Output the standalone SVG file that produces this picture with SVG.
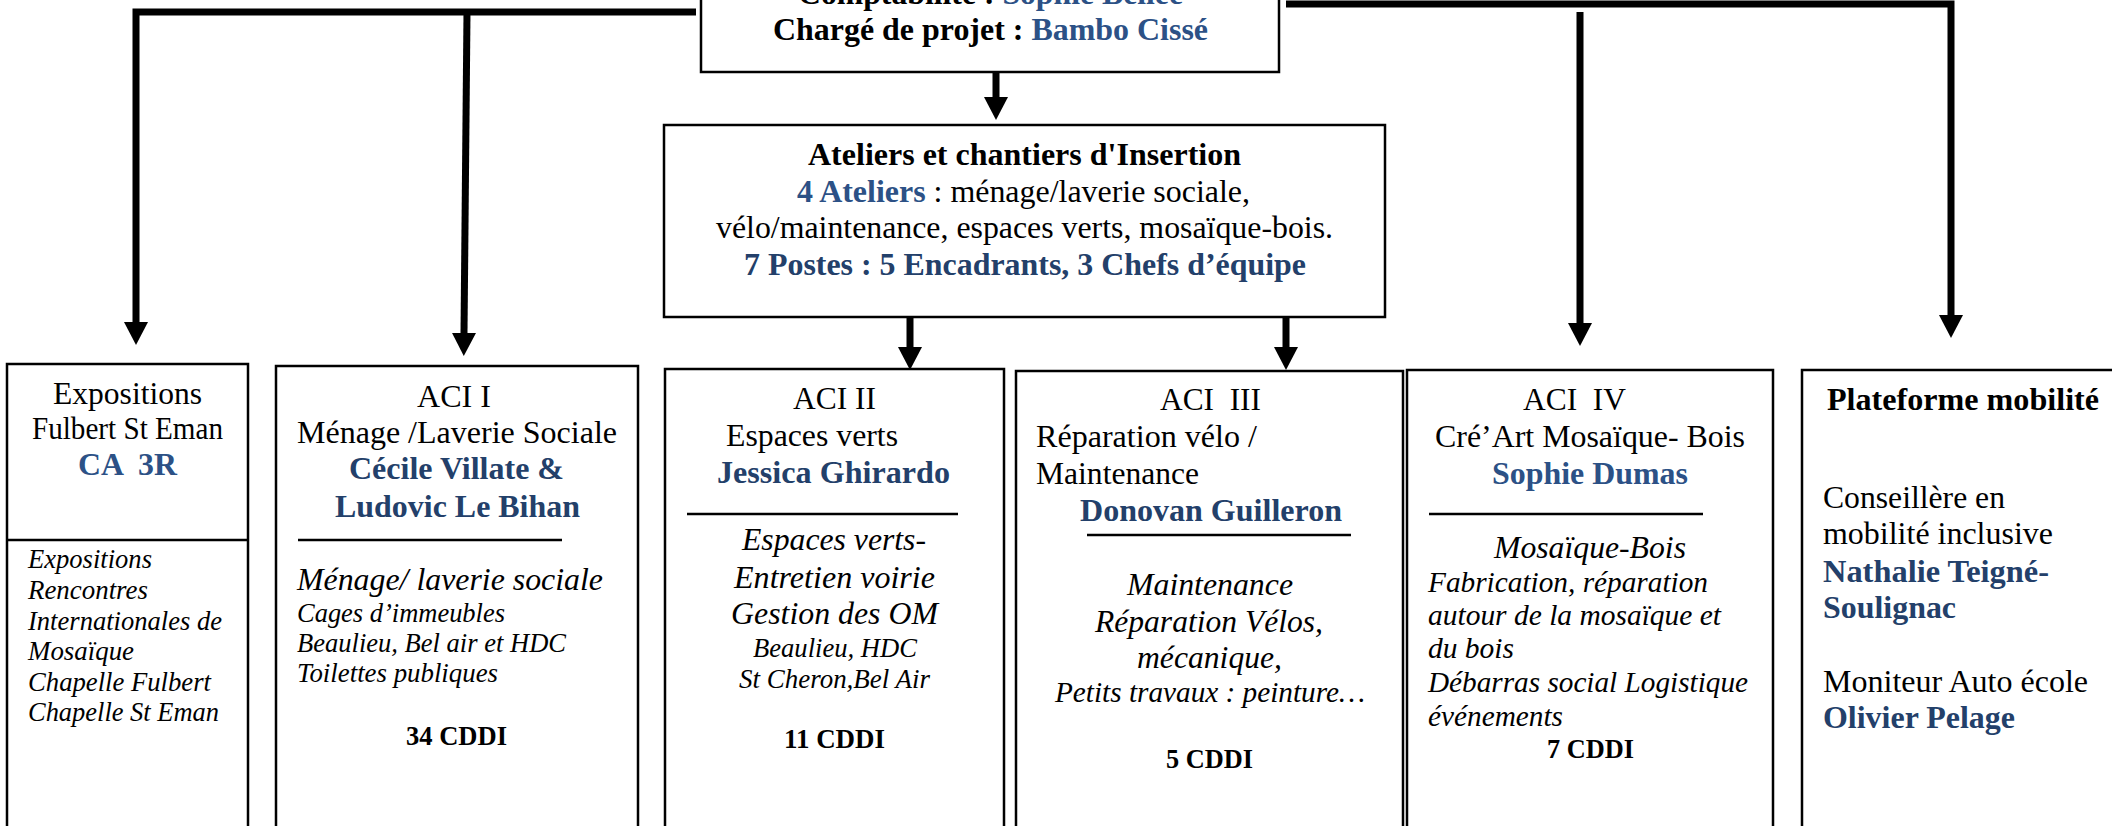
<svg xmlns="http://www.w3.org/2000/svg" width="2112" height="826" viewBox="0 0 2112 826">
<style>
text{font-family:"Liberation Serif","Times New Roman",serif;fill:#000;font-size:32px}
.bd{font-weight:bold}
.it{font-style:italic}
.s{font-size:26.5px}
.m{font-size:29px}
.b1{fill:#23406A}
.b2{fill:#2C5186}
.box{fill:#fff;stroke:#000;stroke-width:2.5}
.div{stroke:#000;stroke-width:2.5;fill:none}
.conn{stroke:#000;stroke-width:7;fill:none;marker-end:url(#ah)}
.line{stroke:#000;stroke-width:7;fill:none}
</style>
<defs>
<marker id="ah" viewBox="0 0 23 24" markerUnits="userSpaceOnUse" markerWidth="23" markerHeight="24" refX="0" refY="12" orient="auto">
<path d="M0,0 L23,12 L0,24 Z" fill="#000"/>
</marker>
</defs>
<rect width="2112" height="826" fill="#fff"/>

<g id="connectors">
<path class="conn" d="M696 12 H136 V322"/>
<path class="conn" d="M467 12 L464 333"/>
<path class="conn" d="M1286 4 H1951 V315"/>
<path class="conn" d="M1580 12 V323"/>
<path class="conn" d="M996 49 V97"/>
<path class="conn" d="M910 303 V347"/>
<path class="conn" d="M1286 300 V347"/>
</g>

<g id="direction">
<rect class="box" x="701" y="-40" width="578" height="112"/>
<text class="bd" x="798" y="4" textLength="385" lengthAdjust="spacingAndGlyphs">Comptabilité : <tspan class="b2">Sophie Bellée</tspan></text>
<text class="bd" x="773" y="40" textLength="435" lengthAdjust="spacingAndGlyphs">Chargé de projet : <tspan class="b2">Bambo Cissé</tspan></text>
</g>

<g id="ateliers">
<rect class="box" x="664" y="125" width="721" height="192"/>
<text class="bd" x="808" y="165" textLength="433" lengthAdjust="spacingAndGlyphs">Ateliers et chantiers d'Insertion</text>
<text x="797" y="202" textLength="453" lengthAdjust="spacingAndGlyphs"><tspan class="bd b2">4 Ateliers</tspan> : ménage/laverie sociale,</text>
<text x="716" y="238" textLength="617" lengthAdjust="spacingAndGlyphs">vélo/maintenance, espaces verts, mosaïque-bois.</text>
<text class="bd b1" x="744" y="275" textLength="562" lengthAdjust="spacingAndGlyphs">7 Postes : 5 Encadrants, 3 Chefs d’équipe</text>
</g>

<g id="expositions">
<rect class="box" x="7" y="364" width="241" height="480"/>
<line class="div" x1="7" y1="540" x2="248" y2="540"/>
<text x="53" y="404" textLength="149" lengthAdjust="spacingAndGlyphs">Expositions</text>
<text x="32" y="439" textLength="191" lengthAdjust="spacingAndGlyphs">Fulbert St Eman</text>
<text class="bd b2" x="78" y="475" textLength="99" lengthAdjust="spacingAndGlyphs" xml:space="preserve">CA  3R</text>
<text class="it s" x="28" y="568" textLength="124" lengthAdjust="spacingAndGlyphs">Expositions</text>
<text class="it s" x="28" y="599" textLength="120" lengthAdjust="spacingAndGlyphs">Rencontres</text>
<text class="it s" x="28" y="630" textLength="194" lengthAdjust="spacingAndGlyphs">Internationales de</text>
<text class="it s" x="28" y="660" textLength="106" lengthAdjust="spacingAndGlyphs">Mosaïque</text>
<text class="it s" x="28" y="691" textLength="183" lengthAdjust="spacingAndGlyphs">Chapelle Fulbert</text>
<text class="it s" x="28" y="721" textLength="191" lengthAdjust="spacingAndGlyphs">Chapelle St Eman</text>
</g>

<g id="aci1">
<rect class="box" x="276" y="366" width="362" height="480"/>
<text x="417" y="407" textLength="74" lengthAdjust="spacingAndGlyphs">ACI I</text>
<text x="297" y="443" textLength="320" lengthAdjust="spacingAndGlyphs">Ménage /Laverie Sociale</text>
<text class="bd b1" x="349" y="479" textLength="215" lengthAdjust="spacingAndGlyphs">Cécile Villate &amp;</text>
<text class="bd b1" x="335" y="517" textLength="245" lengthAdjust="spacingAndGlyphs">Ludovic Le Bihan</text>
<line class="div" x1="298" y1="540" x2="562" y2="540"/>
<text class="it" x="297" y="590" textLength="306" lengthAdjust="spacingAndGlyphs">Ménage/ laverie sociale</text>
<text class="it s" x="297" y="622" textLength="208" lengthAdjust="spacingAndGlyphs">Cages d’immeubles</text>
<text class="it s" x="297" y="652" textLength="269" lengthAdjust="spacingAndGlyphs">Beaulieu, Bel air et HDC</text>
<text class="it s" x="297" y="682" textLength="201" lengthAdjust="spacingAndGlyphs">Toilettes publiques</text>
<text class="bd s" x="406" y="745" textLength="101" lengthAdjust="spacingAndGlyphs">34 CDDI</text>
</g>

<g id="aci2">
<rect class="box" x="665" y="369" width="339" height="480"/>
<text x="793" y="409" textLength="83" lengthAdjust="spacingAndGlyphs">ACI II</text>
<text x="726" y="446" textLength="172" lengthAdjust="spacingAndGlyphs">Espaces verts</text>
<text class="bd b1" x="717" y="483" textLength="233" lengthAdjust="spacingAndGlyphs">Jessica Ghirardo</text>
<line class="div" x1="687" y1="514" x2="958" y2="514"/>
<text class="it" x="742" y="550" textLength="184" lengthAdjust="spacingAndGlyphs">Espaces verts-</text>
<text class="it" x="734" y="588" textLength="201" lengthAdjust="spacingAndGlyphs">Entretien voirie</text>
<text class="it" x="731" y="624" textLength="207" lengthAdjust="spacingAndGlyphs">Gestion des OM</text>
<text class="it s" x="753" y="657" textLength="164" lengthAdjust="spacingAndGlyphs">Beaulieu, HDC</text>
<text class="it s" x="739" y="688" textLength="191" lengthAdjust="spacingAndGlyphs">St Cheron,Bel Air</text>
<text class="bd s" x="784" y="748" textLength="101" lengthAdjust="spacingAndGlyphs">11 CDDI</text>
</g>

<g id="aci3">
<rect class="box" x="1016" y="371" width="387" height="480"/>
<text x="1160" y="410" textLength="101" lengthAdjust="spacingAndGlyphs" xml:space="preserve">ACI  III</text>
<text x="1036" y="447" textLength="221" lengthAdjust="spacingAndGlyphs">Réparation vélo /</text>
<text x="1036" y="484" textLength="163" lengthAdjust="spacingAndGlyphs">Maintenance</text>
<text class="bd b1" x="1080" y="521" textLength="262" lengthAdjust="spacingAndGlyphs">Donovan Guilleron</text>
<line class="div" x1="1087" y1="535" x2="1351" y2="535"/>
<text class="it" x="1127" y="595" textLength="166" lengthAdjust="spacingAndGlyphs">Maintenance</text>
<text class="it" x="1095" y="632" textLength="228" lengthAdjust="spacingAndGlyphs">Réparation Vélos,</text>
<text class="it" x="1137" y="668" textLength="145" lengthAdjust="spacingAndGlyphs">mécanique,</text>
<text class="it m" x="1055" y="702" textLength="310" lengthAdjust="spacingAndGlyphs">Petits travaux : peinture…</text>
<text class="bd s" x="1166" y="768" textLength="87" lengthAdjust="spacingAndGlyphs">5 CDDI</text>
</g>

<g id="aci4">
<rect class="box" x="1407" y="370" width="366" height="480"/>
<text x="1523" y="410" textLength="103" lengthAdjust="spacingAndGlyphs" xml:space="preserve">ACI  IV</text>
<text x="1435" y="447" textLength="310" lengthAdjust="spacingAndGlyphs">Cré’Art Mosaïque- Bois</text>
<text class="bd b2" x="1492" y="484" textLength="196" lengthAdjust="spacingAndGlyphs">Sophie Dumas</text>
<line class="div" x1="1429" y1="514" x2="1703" y2="514"/>
<text class="it" x="1494" y="558" textLength="192" lengthAdjust="spacingAndGlyphs">Mosaïque-Bois</text>
<text class="it m" x="1428" y="592" textLength="280" lengthAdjust="spacingAndGlyphs">Fabrication, réparation</text>
<text class="it m" x="1428" y="625" textLength="293" lengthAdjust="spacingAndGlyphs">autour de la mosaïque et</text>
<text class="it m" x="1428" y="658" textLength="86" lengthAdjust="spacingAndGlyphs">du bois</text>
<text class="it m" x="1428" y="692" textLength="320" lengthAdjust="spacingAndGlyphs">Débarras social Logistique</text>
<text class="it m" x="1428" y="726" textLength="135" lengthAdjust="spacingAndGlyphs">événements</text>
<text class="bd s" x="1547" y="758" textLength="87" lengthAdjust="spacingAndGlyphs">7 CDDI</text>
</g>

<g id="plateforme">
<rect class="box" x="1802" y="370" width="330" height="480"/>
<text class="bd" x="1827" y="410" textLength="272" lengthAdjust="spacingAndGlyphs">Plateforme mobilité</text>
<text x="1823" y="508" textLength="182" lengthAdjust="spacingAndGlyphs">Conseillère en</text>
<text x="1823" y="544" textLength="230" lengthAdjust="spacingAndGlyphs">mobilité inclusive</text>
<text class="bd b1" x="1823" y="582" textLength="226" lengthAdjust="spacingAndGlyphs">Nathalie Teigné-</text>
<text class="bd b1" x="1823" y="618" textLength="133" lengthAdjust="spacingAndGlyphs">Soulignac</text>
<text x="1823" y="692" textLength="265" lengthAdjust="spacingAndGlyphs">Moniteur Auto école</text>
<text class="bd b1" x="1823" y="728" textLength="192" lengthAdjust="spacingAndGlyphs">Olivier Pelage</text>
</g>
</svg>
